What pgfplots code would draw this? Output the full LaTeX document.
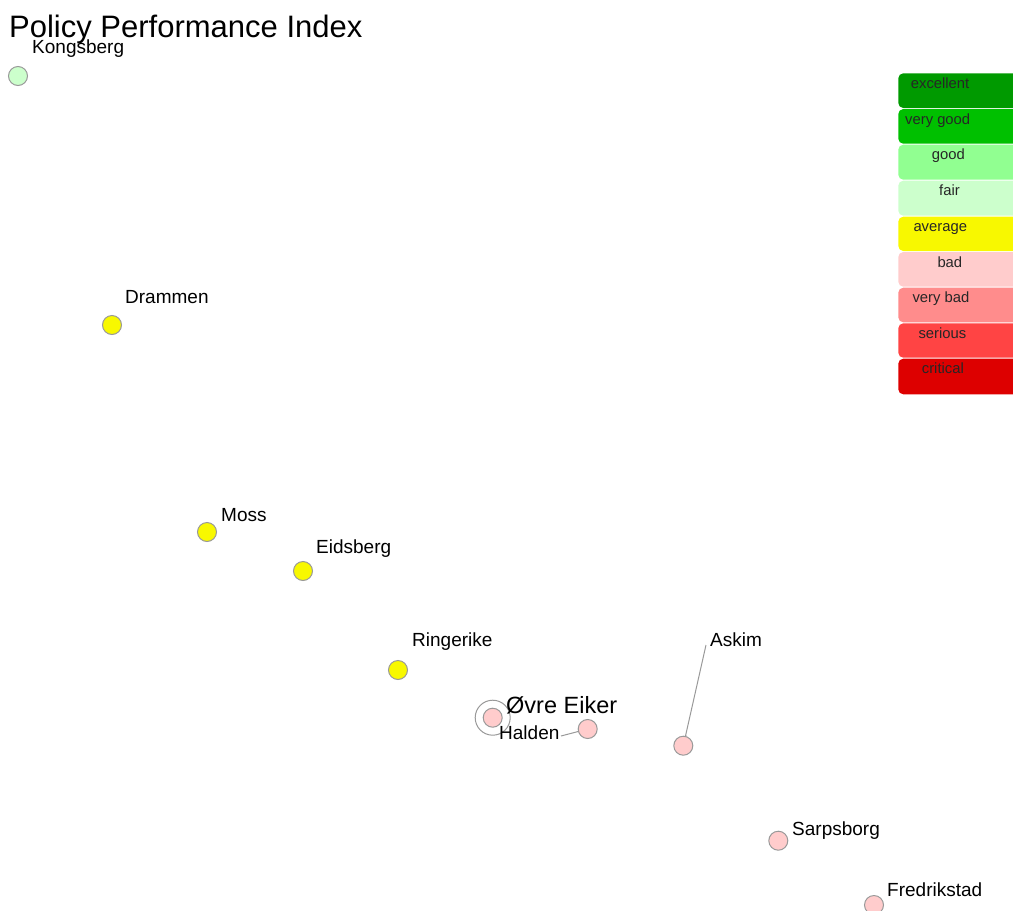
\documentclass[border=0pt]{standalone}
\usepackage{fontspec}
\setmainfont{Liberation Sans}
\usepackage{pgfplots}
\pgfplotsset{compat=1.18}
\definecolor{cexc}{HTML}{009A00}
\definecolor{cvg}{HTML}{00C000}
\definecolor{cgood}{HTML}{91FF91}
\definecolor{cfair}{HTML}{CCFFCC}
\definecolor{cavg}{HTML}{F8F800}
\definecolor{cbad}{HTML}{FFCCCC}
\definecolor{cvbad}{HTML}{FF8C8C}
\definecolor{cser}{HTML}{FF4444}
\definecolor{ccrit}{HTML}{DD0000}
\definecolor{cstroke}{HTML}{999999}
\begin{document}
\begin{tikzpicture}
\clip (0,0) rectangle (1013pt,911pt);
\useasboundingbox (0,0) rectangle (1013pt,911pt);
\begin{axis}[
  at={(0,0)}, anchor=south west,
  width=1013pt, height=911pt, scale only axis,
  xmin=0, xmax=1013, ymin=0, ymax=911, y dir=reverse,
  hide axis, clip=false,
]
% leader lines
\addplot[cstroke, line width=1pt] coordinates {(706,645) (683.3,745.7)};
\addplot[cstroke, line width=1pt] coordinates {(561,736) (587.7,729)};
% highlight ring
\addplot[only marks, mark=o, mark size=17.5pt, mark options={draw=cstroke, line width=1pt}] coordinates {(492.7,717.7)};
% points
\addplot[only marks, mark=*, mark size=9.5pt, mark options={fill=cfair, draw=cstroke, line width=1pt}] coordinates {(18,76)};
\addplot[only marks, mark=*, mark size=9.5pt, mark options={fill=cavg, draw=cstroke, line width=1pt}] coordinates {(112,325) (207,532) (303,571) (398,670)};
\addplot[only marks, mark=*, mark size=9.5pt, mark options={fill=cbad, draw=cstroke, line width=1pt}] coordinates {(492.7,717.7) (587.7,729) (683.3,745.7) (778.3,840.7) (874,905)};
% leader line ends over fill
\addplot[cstroke, line width=1pt] coordinates {(686,735) (683.3,745.7)};
\addplot[cstroke, line width=1pt] coordinates {(579,731.2) (587.7,729)};
% labels
\addplot[draw=none, mark=none, nodes near coords, point meta=explicit symbolic,
  every node near coord/.append style={anchor=base west, inner sep=0pt, font=\fontsize{19}{22}\selectfont, text=black}]
  coordinates {(32,53) [Kongsberg] (125,303) [Drammen] (221,521) [Moss] (316,553) [Eidsberg]
  (412,646) [Ringerike] (710,646) [Askim] (499,739) [Halden] (792,835) [Sarpsborg] (887,896) [Fredrikstad]};
\addplot[draw=none, mark=none, nodes near coords, point meta=explicit symbolic,
  every node near coord/.append style={anchor=base west, inner sep=0pt, font=\fontsize{23.5}{27}\selectfont, text=black}]
  coordinates {(506,713) [Øvre Eiker]};
% title
\node[anchor=base west, inner sep=0pt, font=\fontsize{31}{36}\selectfont] at (axis cs:9,37) {Policy Performance Index};
% legend
\fill[cexc, rounded corners=5pt] (axis cs:898.3,73.3) rectangle (axis cs:1030,108);
\fill[cvg, rounded corners=5pt] (axis cs:898.3,109) rectangle (axis cs:1030,143.7);
\fill[cgood, rounded corners=5pt] (axis cs:898.3,144.7) rectangle (axis cs:1030,179.7);
\fill[cfair, rounded corners=5pt] (axis cs:898.3,180.7) rectangle (axis cs:1030,215.7);
\fill[cavg, rounded corners=5pt] (axis cs:898.3,216.7) rectangle (axis cs:1030,251);
\fill[cbad, rounded corners=5pt] (axis cs:898.3,252) rectangle (axis cs:1030,286.7);
\fill[cvbad, rounded corners=5pt] (axis cs:898.3,287.7) rectangle (axis cs:1030,322.3);
\fill[cser, rounded corners=5pt] (axis cs:898.3,323.3) rectangle (axis cs:1030,357.7);
\fill[ccrit, rounded corners=5pt] (axis cs:898.3,358.7) rectangle (axis cs:1030,394.3);
\begin{scope}[every node/.style={anchor=base west, inner sep=0pt, font=\fontsize{14.8}{17}\selectfont, text=black!85}]
\node at (axis cs:910.7,88.3) {excellent};
\node at (axis cs:905,124) {very good};
\node at (axis cs:931.7,159.7) {good};
\node at (axis cs:939,195.7) {fair};
\node at (axis cs:913.3,231.7) {average};
\node at (axis cs:937.3,267) {bad};
\node at (axis cs:912.3,302.7) {very bad};
\node at (axis cs:918.3,338.3) {serious};
\node at (axis cs:921.7,373.7) {critical};
\end{scope}
\end{axis}
\end{tikzpicture}
\end{document}
